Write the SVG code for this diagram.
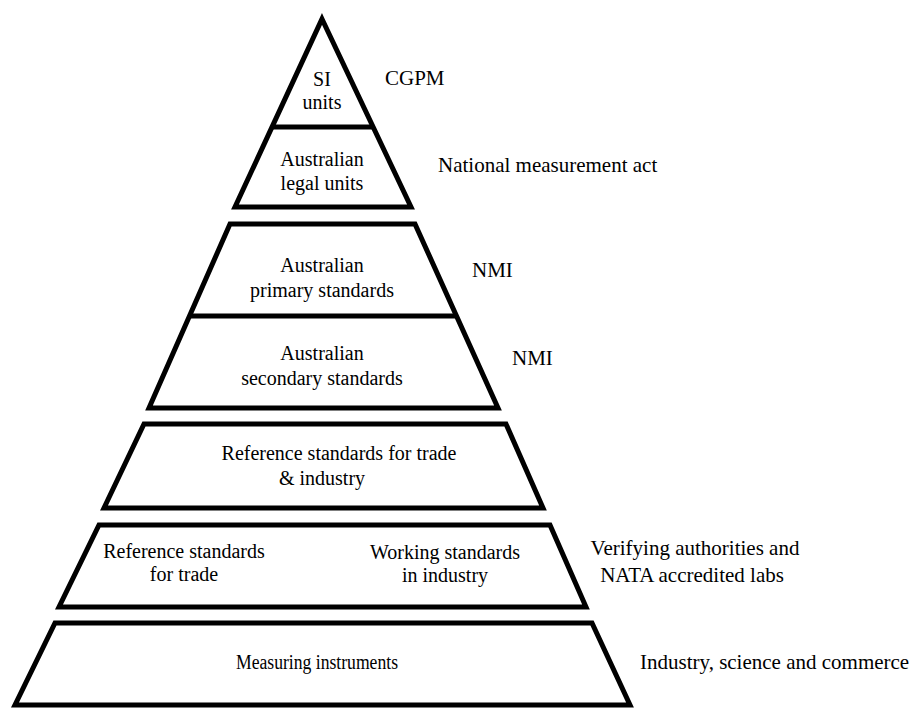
<svg xmlns="http://www.w3.org/2000/svg" width="915" height="709" viewBox="0 0 915 709">
<style>
.s{fill:#fff;stroke:#000;stroke-width:5;stroke-linejoin:miter;stroke-miterlimit:10}
.d{stroke:#000;stroke-width:5}
text{font-family:"Liberation Serif","Times New Roman",serif;font-size:20px;fill:#000;text-anchor:middle}
.r{font-size:21px;text-anchor:start}
.c{font-size:21px}
</style>
<rect width="915" height="709" fill="#fff"/>
<g id="tier1">
<polygon class="s" points="322,19 411,207 235,207"/>
<line class="d" x1="272" y1="127" x2="374" y2="127"/>
<text x="322" y="86">SI</text>
<text x="322" y="109">units</text>
<text x="322" y="166">Australian</text>
<text x="322" y="190">legal units</text>
</g>
<g id="tier2">
<polygon class="s" points="230,224 415,224 498,408 149,408"/>
<line class="d" x1="190" y1="316" x2="457" y2="316"/>
<text x="322" y="272">Australian</text>
<text x="322" y="297">primary standards</text>
<text x="322" y="360">Australian</text>
<text x="322" y="385">secondary standards</text>
</g>
<g id="tier3">
<polygon class="s" points="144,424 506,424 543,508 104,508"/>
<text x="339" y="460">Reference standards for trade</text>
<text x="322" y="485">&amp; industry</text>
</g>
<g id="tier4">
<polygon class="s" points="99,525 550,525 586,607 59,607"/>
<text x="184" y="558">Reference standards</text>
<text x="184" y="581">for trade</text>
<text x="445" y="559">Working standards</text>
<text x="445" y="582">in industry</text>
</g>
<g id="tier5">
<polygon class="s" points="55,623 592,623 630,705 15,705"/>
<text x="317" y="669" textLength="162" lengthAdjust="spacingAndGlyphs">Measuring instruments</text>
</g>
<g id="labels">
<text class="r" x="385" y="85">CGPM</text>
<text class="r" x="438" y="172">National measurement act</text>
<text class="r" x="472" y="277">NMI</text>
<text class="r" x="512" y="365">NMI</text>
<text class="c" x="695" y="555">Verifying authorities and</text>
<text class="c" x="692" y="582">NATA accredited labs</text>
<text class="r" x="640" y="669">Industry, science and commerce</text>
</g>
<g id="connectors"></g>
</svg>
